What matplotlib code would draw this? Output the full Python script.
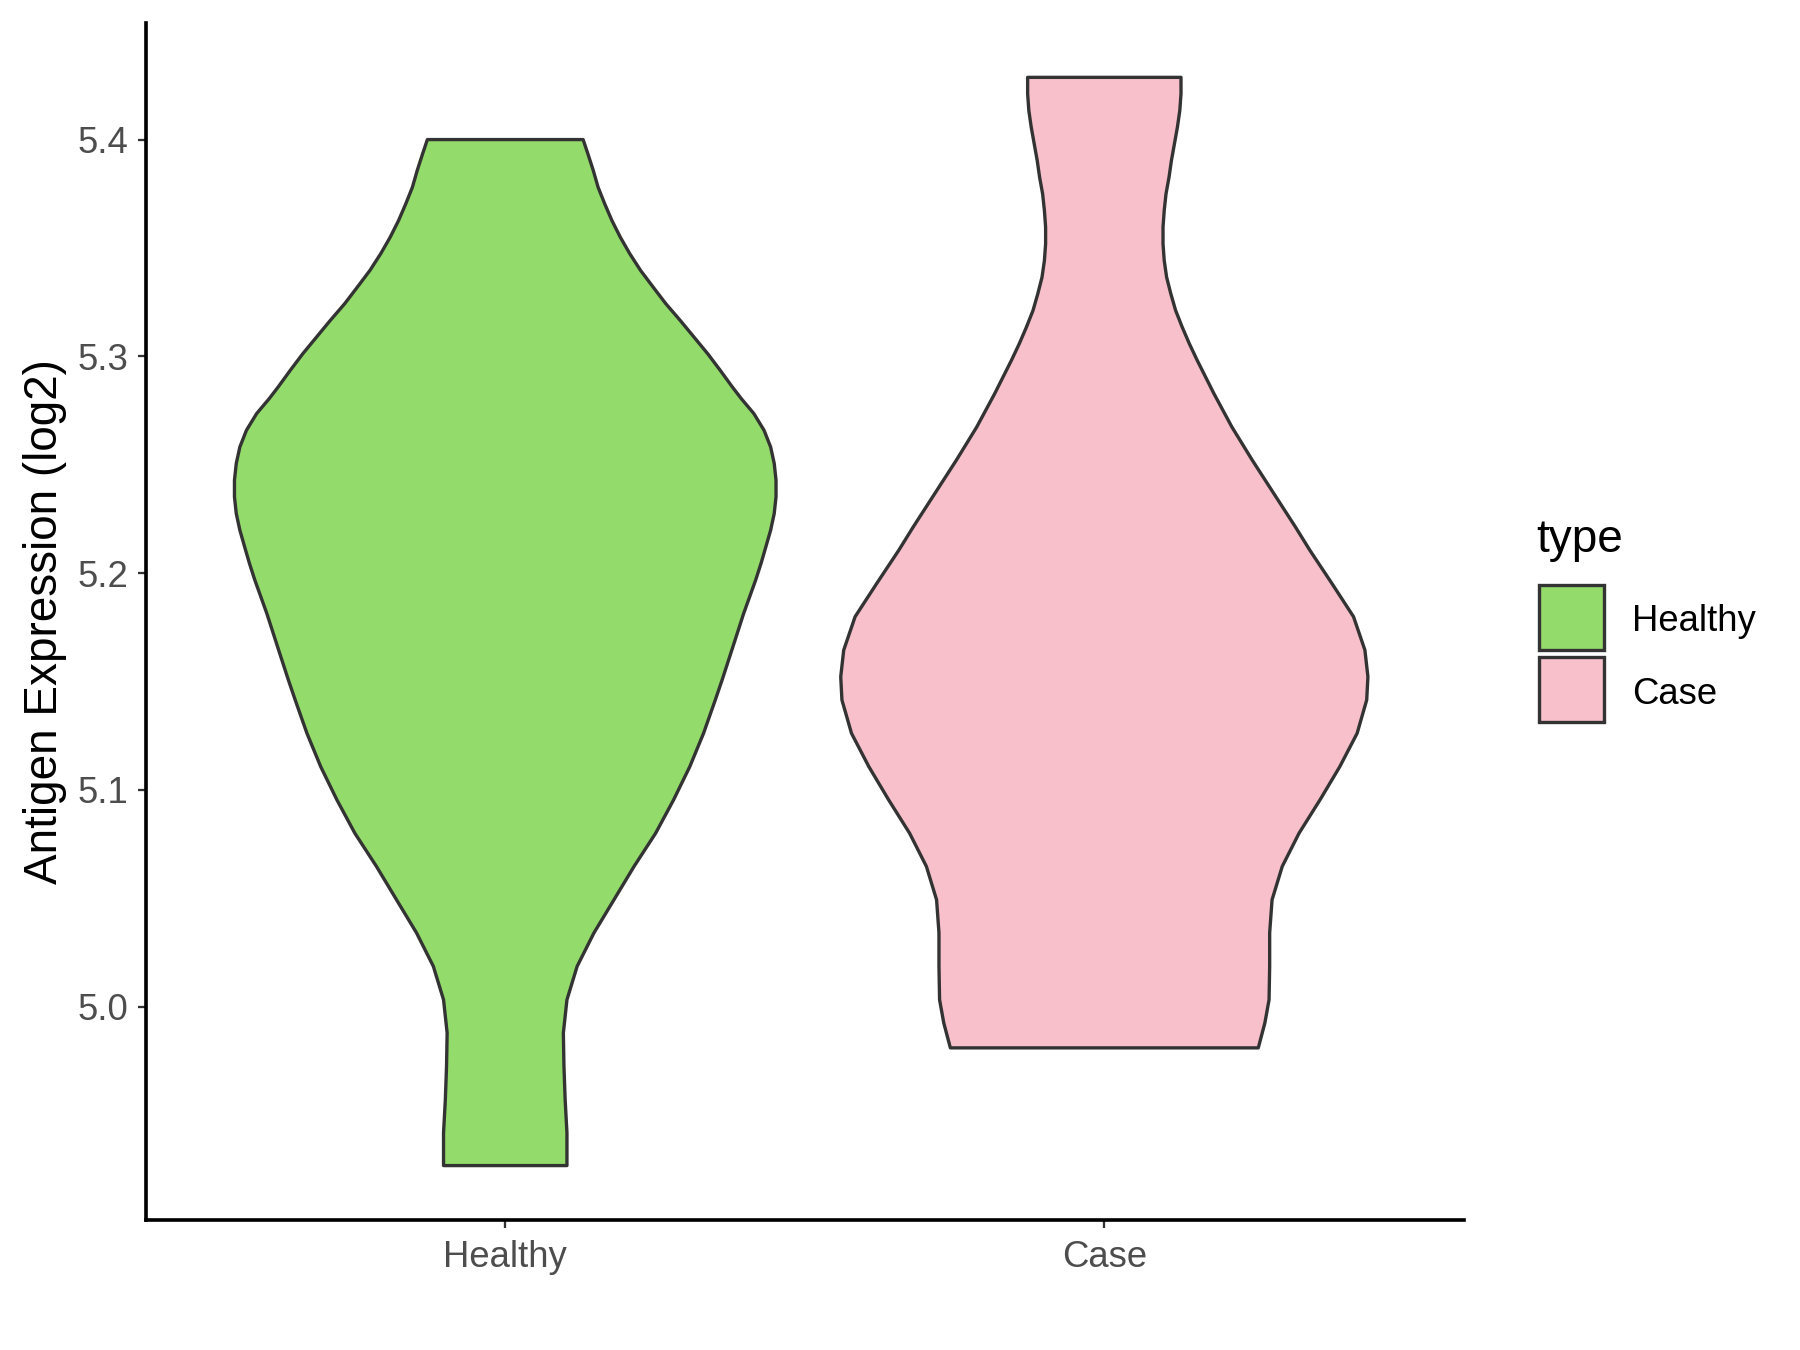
import matplotlib
matplotlib.use("Agg")
import matplotlib.pyplot as plt
from matplotlib.patches import Rectangle

# ---- data ----
categories = ["Healthy", "Case"]
fill_colors = ["#93DB6A", "#F7C0CB"]

# violin outline: expression value (top -> bottom) and half-width (fraction of category spacing)
healthy_y = [5.4000, 5.3934, 5.3857, 5.3780, 5.3704, 5.3627, 5.3550, 5.3473, 5.3396,
             5.3319, 5.3243, 5.3166, 5.3089, 5.3012, 5.2935, 5.2859, 5.2805, 5.2736,
             5.2659, 5.2582, 5.2506, 5.2429, 5.2352, 5.2275, 5.2198, 5.2121, 5.2045,
             5.1968, 5.1814, 5.1660, 5.1507, 5.1410, 5.1261, 5.1107, 5.0954, 5.0800,
             5.0647, 5.0491, 5.0340, 5.0186, 5.0032, 4.9879, 4.9725, 4.9571, 4.9418,
             4.9267]
healthy_w = [0.130, 0.138, 0.147, 0.155, 0.166, 0.178, 0.192, 0.208, 0.226,
             0.247, 0.268, 0.292, 0.315, 0.338, 0.359, 0.379, 0.394, 0.415,
             0.432, 0.443, 0.449, 0.452, 0.452, 0.449, 0.443, 0.435, 0.427,
             0.418, 0.398, 0.380, 0.362, 0.350, 0.331, 0.308, 0.281, 0.251,
             0.215, 0.181, 0.148, 0.120, 0.103, 0.097, 0.098, 0.100, 0.103,
             0.103]

case_y = [5.4287, 5.4211, 5.4134, 5.4057, 5.3980, 5.3903, 5.3826, 5.3750, 5.3673,
          5.3596, 5.3519, 5.3442, 5.3365, 5.3289, 5.3212, 5.3135, 5.3058, 5.2982,
          5.2828, 5.2674, 5.2521, 5.2367, 5.2213, 5.2106, 5.1952, 5.1799, 5.1645,
          5.1522, 5.1415, 5.1261, 5.1107, 5.0954, 5.0800, 5.0647, 5.0493, 5.0340,
          5.0186, 5.0032, 4.9925, 4.9810]
case_w = [0.128, 0.128, 0.126, 0.122, 0.117, 0.112, 0.108, 0.103, 0.100,
          0.098, 0.098, 0.100, 0.104, 0.111, 0.119, 0.130, 0.142, 0.155,
          0.183, 0.213, 0.247, 0.283, 0.319, 0.343, 0.380, 0.416, 0.435,
          0.440, 0.438, 0.422, 0.393, 0.360, 0.325, 0.297, 0.280, 0.276,
          0.276, 0.275, 0.268, 0.257]

yticks = [5.0, 5.1, 5.2, 5.3, 5.4]
ytick_labels = ["5.0", "5.1", "5.2", "5.3", "5.4"]
ylabel = "Antigen Expression (log2)"
legend_title = "type"

# ---- styling ----
plt.rcParams['font.family'] = ['Liberation Sans', 'DejaVu Sans']
W, H = 1800, 1350
fig = plt.figure(figsize=(12, 9), dpi=150)
ax = fig.add_axes([0.081, 0.0963, 0.7322, 0.8867])

edge = "#333333"
lw_violin = 1.6

profiles = [(healthy_y, healthy_w), (case_y, case_w)]
for i, ((ys, ws), col) in enumerate(zip(profiles, fill_colors)):
    c = i + 1
    xs = [c + w for w in ws] + [c - w for w in reversed(ws)]
    yy = list(ys) + list(reversed(ys))
    ax.fill(xs, yy, facecolor=col, edgecolor=edge, linewidth=lw_violin,
            joinstyle="round", zorder=2)

all_y = healthy_y + case_y
lo, hi = min(all_y), max(all_y)
pad = 0.05 * (hi - lo)
ax.set_ylim(lo - pad, hi + pad)
ax.set_xlim(0.4, 2.6)

ax.set_xticks([1, 2])
ax.set_xticklabels(categories)
ax.set_yticks(yticks)
ax.set_yticklabels(ytick_labels)

for s in ["top", "right"]:
    ax.spines[s].set_visible(False)
for s in ["left", "bottom"]:
    ax.spines[s].set_linewidth(1.75)
    ax.spines[s].set_color("black")

ax.tick_params(axis="both", length=3.9, width=1.1, color=edge,
               labelsize=17.5, labelcolor="#4D4D4D")
ax.tick_params(axis="y", pad=4.5)
ax.tick_params(axis="x", pad=5.5)
ax.set_ylabel(ylabel, fontsize=22, color="black", labelpad=5)

# ---- legend (manual, ggplot-like) ----
def fx(px):
    return px / W

def fy(py):
    return 1 - py / H

fig.text(fx(1536), fy(540), legend_title, fontsize=22, ha="left", va="center")
key_tops = [585, 657]
for top, col, lab in zip(key_tops, fill_colors, categories):
    r = Rectangle((fx(1539), fy(top + 65)), fx(65), 65 / H, transform=fig.transFigure,
                  facecolor=col, edgecolor=edge, linewidth=1.6)
    fig.patches.append(r)
    fig.text(fx(1632), fy(top + 37), lab, fontsize=17.5, ha="left", va="center")

fig.savefig("out.png", dpi=150, facecolor="white")
